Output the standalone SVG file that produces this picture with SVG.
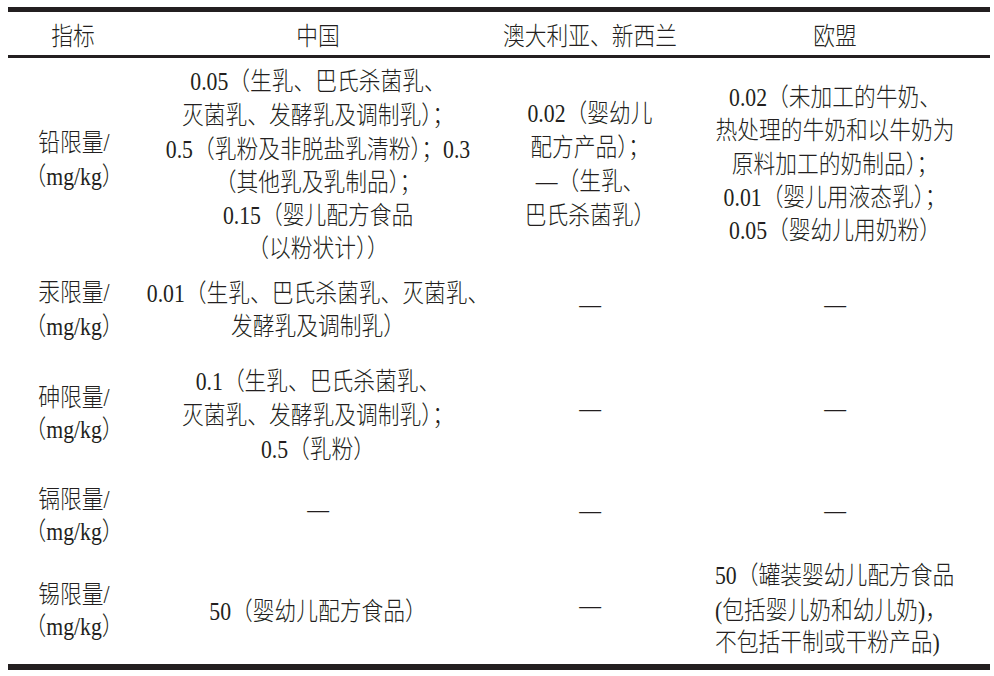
<svg xmlns="http://www.w3.org/2000/svg" width="994" height="676" viewBox="0 0 994 676">
<style>
text{font-family:"Liberation Serif","Noto Sans CJK SC",serif;font-size:25px;font-weight:300;fill:#231f20;text-anchor:middle}
.l{text-anchor:start}
.rule{fill:#231f20}
</style>
<rect width="994" height="676" fill="#fff"/>
<g id="rules">
<rect class="rule" x="8" y="7" width="982" height="5"/>
<rect class="rule" x="8" y="55" width="982" height="3"/>
<rect class="rule" x="8" y="664" width="982" height="6"/>
</g>
<g id="header">
<g transform="translate(73 0) scale(.87 1)"><text x="0" y="45">指标</text></g>
<g transform="translate(318 0) scale(.87 1)"><text x="0" y="45">中国</text></g>
<g transform="translate(590 0) scale(.87 1)"><text x="0" y="45">澳大利亚、新西兰</text></g>
<g transform="translate(835 0) scale(.87 1)"><text x="0" y="45">欧盟</text></g>
</g>
<g id="row-pb">
<g id="pb-label" transform="translate(74 0) scale(.87 1)"><text x="0" y="151">铅限量/</text><text x="0" y="185">（mg/kg）</text></g>
<g id="pb-cn" transform="translate(318 0) scale(.87 1)">
<text x="0" y="90">0.05（生乳、巴氏杀菌乳、</text>
<text x="0" y="124">灭菌乳、发酵乳及调制乳）；</text>
<text x="0" y="158">0.5（乳粉及非脱盐乳清粉）；0.3</text>
<text x="0" y="191">（其他乳及乳制品）；</text>
<text x="0" y="224">0.15（婴儿配方食品</text>
<text x="0" y="257">（以粉状计））</text>
</g>
<g id="pb-au" transform="translate(590 0) scale(.87 1)">
<text x="0" y="122">0.02（婴幼儿</text>
<text x="0" y="156">配方产品）；</text>
<text x="0" y="190">—（生乳、</text>
<text x="0" y="224">巴氏杀菌乳）</text>
</g>
<g id="pb-eu" transform="translate(835 0) scale(.87 1)">
<text x="0" y="106">0.02（未加工的牛奶、</text>
<text x="0" y="139">热处理的牛奶和以牛奶为</text>
<text x="0" y="173">原料加工的奶制品）；</text>
<text x="0" y="206">0.01（婴儿用液态乳）；</text>
<text x="0" y="239">0.05（婴幼儿用奶粉）</text>
</g>
</g>
<g id="row-hg">
<g id="hg-label" transform="translate(74 0) scale(.87 1)"><text x="0" y="301">汞限量/</text><text x="0" y="335">（mg/kg）</text></g>
<g id="hg-cn" transform="translate(318 0) scale(.87 1)">
<text x="0" y="302">0.01（生乳、巴氏杀菌乳、灭菌乳、</text>
<text x="0" y="335">发酵乳及调制乳）</text>
</g>
<g id="hg-au" transform="translate(590 0) scale(.87 1)"><text x="0" y="313">—</text></g>
<g id="hg-eu" transform="translate(835 0) scale(.87 1)"><text x="0" y="313">—</text></g>
</g>
<g id="row-as">
<g id="as-label" transform="translate(74 0) scale(.87 1)"><text x="0" y="406">砷限量/</text><text x="0" y="438">（mg/kg）</text></g>
<g id="as-cn" transform="translate(318 0) scale(.87 1)">
<text x="0" y="390">0.1（生乳、巴氏杀菌乳、</text>
<text x="0" y="424">灭菌乳、发酵乳及调制乳）；</text>
<text x="0" y="458">0.5（乳粉）</text>
</g>
<g id="as-au" transform="translate(590 0) scale(.87 1)"><text x="0" y="417">—</text></g>
<g id="as-eu" transform="translate(835 0) scale(.87 1)"><text x="0" y="417">—</text></g>
</g>
<g id="row-cd">
<g id="cd-label" transform="translate(74 0) scale(.87 1)"><text x="0" y="508">镉限量/</text><text x="0" y="540">（mg/kg）</text></g>
<g id="cd-cn" transform="translate(318 0) scale(.87 1)"><text x="0" y="518">—</text></g>
<g id="cd-au" transform="translate(590 0) scale(.87 1)"><text x="0" y="519">—</text></g>
<g id="cd-eu" transform="translate(835 0) scale(.87 1)"><text x="0" y="519">—</text></g>
</g>
<g id="row-sn">
<g id="sn-label" transform="translate(74 0) scale(.87 1)"><text x="0" y="603">锡限量/</text><text x="0" y="635">（mg/kg）</text></g>
<g id="sn-cn" transform="translate(318 0) scale(.87 1)"><text x="0" y="620">50（婴幼儿配方食品）</text></g>
<g id="sn-au" transform="translate(590 0) scale(.87 1)"><text x="0" y="614">—</text></g>
<g id="sn-eu" transform="translate(715 0) scale(.87 1)">
<text class="l" x="0" y="584">50（罐装婴幼儿配方食品</text>
<text class="l" x="0" y="619">(包括婴儿奶和幼儿奶)，</text>
<text class="l" x="0" y="651">不包括干制或干粉产品)</text>
</g>
</g>
</svg>
